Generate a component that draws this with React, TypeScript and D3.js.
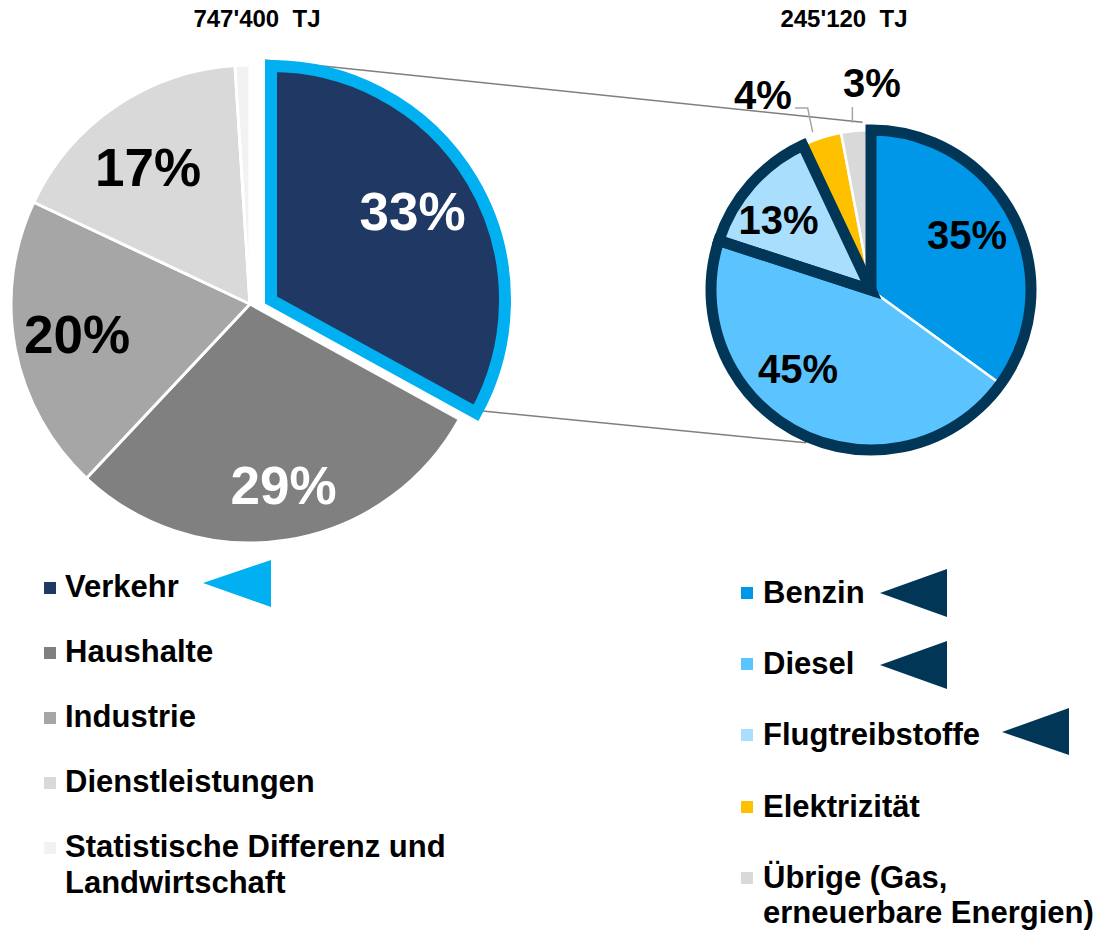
import * as d3 from 'd3';

// Endenergieverbrauch nach Verbrauchergruppen (links) und Verkehr nach Energieträger (rechts)
const sectorNames = ['Verkehr', 'Haushalte', 'Industrie', 'Dienstleistungen', 'Statistische Differenz und Landwirtschaft'];
const sectorShares = [33, 29, 20, 17, 1];
const sectorColors = ['#1f3864', '#808080', '#a6a6a6', '#d9d9d9', '#f2f2f2'];
const sectorLabelColors = ['#fff', '#fff', '#000', '#000', null];

const fuelNames = ['Benzin', 'Diesel', 'Flugtreibstoffe', 'Elektrizität', 'Übrige (Gas, erneuerbare Energien)'];
const fuelShares = [35, 45, 13, 4, 3];
const fuelColors = ['#0097e8', '#5bc3fd', '#a9defd', '#ffc000', '#d9d9d9'];

const totals = ["747'400  TJ", "245'120  TJ"];

const WIDTH = 1104;
const HEIGHT = 933;
const FONT = '"Liberation Sans", Arial, sans-serif';

// left pie layout
const L = { cx: 250, cy: 304, r: 239 };
const VERKEHR = { dx: 21, dy: -4, r: 234 };
const L_LABEL_R = 176;
const L_NUDGE = [[-10, 0], [6, 7], [0, -3], [-3, 8], [0, 0]];

// right pie layout
const R = { cx: 871, cy: 290, r: 160 };
const R_LABEL_R = 110;
const R_NUDGE = [[-2, -5], [-23, -19], [-10, 2], [0, 0], [0, 0]];
const R_OUTSIDE: Record<number, [number, number]> = { 3: [763, 95], 4: [872, 83] };

const NAVY = '#023657';
const CYAN = '#00b0f0';

const pie = d3.pie<number>().sort(null).value((d) => d);

const polar = (cx: number, cy: number, r: number, a: number): [number, number] => [
  cx + r * Math.sin(a),
  cy - r * Math.cos(a),
];

export default function App() {
  const leftArcs = pie(sectorShares);
  const rightArcs = pie(fuelShares);

  const lArc = d3.arc<d3.PieArcDatum<number>>().innerRadius(0).outerRadius(L.r);
  const vArc = d3.arc<d3.PieArcDatum<number>>().innerRadius(0).outerRadius(VERKEHR.r);
  const lLabel = d3.arc<d3.PieArcDatum<number>>().innerRadius(L_LABEL_R).outerRadius(L_LABEL_R);
  const rArc = d3.arc<d3.PieArcDatum<number>>().innerRadius(0).outerRadius(R.r);
  const rLabel = d3.arc<d3.PieArcDatum<number>>().innerRadius(R_LABEL_R).outerRadius(R_LABEL_R);

  // outline around Benzin + Diesel together
  const bdOutline = d3.arc()({
    innerRadius: 0,
    outerRadius: R.r,
    startAngle: rightArcs[0].startAngle,
    endAngle: rightArcs[1].endAngle,
  });

  // zoom lines from Verkehr slice to the right pie
  const vx = L.cx + VERKEHR.dx;
  const vy = L.cy + VERKEHR.dy;
  const vEnd = polar(vx, vy, VERKEHR.r, leftArcs[0].endAngle);
  const topStart: [number, number] = [vx - 6, vy - VERKEHR.r - 6];
  const topEnd = polar(R.cx, R.cy, R.r + 8, -0.05);
  const botStart: [number, number] = [vEnd[0] + 4, vEnd[1] - 2];
  const botEnd = polar(R.cx, R.cy, R.r + 6, (203 / 180) * Math.PI);

  const leftLegendY = [597, 662, 727, 792, 857];
  const rightLegendY = [603, 674, 745, 817, 888];

  return (
    <svg
      width={WIDTH}
      height={HEIGHT}
      style={{ position: 'absolute', left: 0, top: 0, background: '#fff' }}
      fontFamily={FONT}
      fontWeight="bold"
    >
      {/* titles */}
      <text x={257} y={27} fontSize={24} textAnchor="middle" style={{ whiteSpace: 'pre' }}>
        {totals[0]}
      </text>
      <text x={844} y={27} fontSize={24} textAnchor="middle" style={{ whiteSpace: 'pre' }}>
        {totals[1]}
      </text>

      {/* connector lines */}
      <line x1={topStart[0]} y1={topStart[1]} x2={topEnd[0]} y2={topEnd[1]} stroke="#7f7f7f" strokeWidth={1.5} />
      <line x1={botStart[0]} y1={botStart[1]} x2={botEnd[0]} y2={botEnd[1]} stroke="#7f7f7f" strokeWidth={1.5} />

      {/* left pie */}
      <g transform={`translate(${L.cx},${L.cy})`}>
        {leftArcs.map((a, i) =>
          i === 0 ? null : (
            <path key={i} d={lArc(a) ?? ''} fill={sectorColors[i]} stroke="#fff" strokeWidth={3} strokeLinejoin="round" />
          )
        )}
        {leftArcs.map((a, i) => {
          if (i === 0 || !sectorLabelColors[i]) return null;
          const [x, y] = lLabel.centroid(a);
          return (
            <text
              key={i}
              x={x + L_NUDGE[i][0]}
              y={y + L_NUDGE[i][1]}
              dy="0.36em"
              textAnchor="middle"
              fontSize={53}
              fill={sectorLabelColors[i] as string}
            >
              {`${sectorShares[i]}%`}
            </text>
          );
        })}
      </g>
      <g transform={`translate(${vx},${vy})`}>
        <path d={vArc(leftArcs[0]) ?? ''} fill={sectorColors[0]} stroke={CYAN} strokeWidth={12} strokeLinejoin="miter" />
        {(() => {
          const [x, y] = lLabel.centroid(leftArcs[0]);
          return (
            <text x={x + L_NUDGE[0][0]} y={y + L_NUDGE[0][1]} dy="0.36em" textAnchor="middle" fontSize={53} fill="#fff">
              {`${sectorShares[0]}%`}
            </text>
          );
        })()}
      </g>

      {/* right pie */}
      <g transform={`translate(${R.cx},${R.cy})`}>
        {rightArcs.map((a, i) => (
          <path key={i} d={rArc(a) ?? ''} fill={fuelColors[i]} stroke="#fff" strokeWidth={2.5} strokeLinejoin="round" />
        ))}
        <path d={bdOutline ?? ''} fill="none" stroke={NAVY} strokeWidth={11} strokeLinejoin="miter" />
        <path d={rArc(rightArcs[2]) ?? ''} fill="none" stroke={NAVY} strokeWidth={11} strokeLinejoin="miter" />
        {rightArcs.map((a, i) => {
          if (R_OUTSIDE[i]) return null;
          const [x, y] = rLabel.centroid(a);
          return (
            <text key={i} x={x + R_NUDGE[i][0]} y={y + R_NUDGE[i][1]} dy="0.36em" textAnchor="middle" fontSize={40} fill="#000">
              {`${fuelShares[i]}%`}
            </text>
          );
        })}
      </g>
      {rightArcs.map((a, i) => {
        const pos = R_OUTSIDE[i];
        if (!pos) return null;
        const mid = (a.startAngle + a.endAngle) / 2;
        const tip = polar(R.cx, R.cy, R.r + 6, mid);
        const pts: [number, number][] =
          i === 3
            ? [[pos[0] + 32, pos[1] + 13], [tip[0] - 12, pos[1] + 13], [tip[0] - 7, tip[1]]]
            : [[tip[0] - 3, pos[1] + 24], [tip[0] - 3, tip[1] - 2]];
        return (
          <g key={i}>
            <path d={d3.line()(pts) ?? ''} fill="none" stroke="#a6a6a6" strokeWidth={1.5} />
            <text x={pos[0]} y={pos[1]} dy="0.36em" textAnchor="middle" fontSize={40} fill="#000">
              {`${fuelShares[i]}%`}
            </text>
          </g>
        );
      })}

      {/* left legend */}
      {sectorNames.map((name, i) => {
        const y = leftLegendY[i];
        const lines = i === 4 ? ['Statistische Differenz und', 'Landwirtschaft'] : [name];
        return (
          <g key={name}>
            <rect x={44} y={y - 15} width={12} height={12} fill={sectorColors[i]} />
            {lines.map((t, j) => (
              <text key={j} x={65} y={y + j * 36} fontSize={31} fill="#000">
                {t}
              </text>
            ))}
          </g>
        );
      })}
      <polygon points="203,583 271,560 271,607" fill={CYAN} />

      {/* right legend */}
      {fuelNames.map((name, i) => {
        const y = rightLegendY[i];
        const lines = i === 4 ? ['Übrige (Gas,', 'erneuerbare Energien)'] : [name];
        return (
          <g key={name}>
            <rect x={741} y={y - 16} width={12} height={12} fill={fuelColors[i]} />
            {lines.map((t, j) => (
              <text key={j} x={763} y={y + j * 35} fontSize={31} fill="#000">
                {t}
              </text>
            ))}
          </g>
        );
      })}
      <polygon points="880,593 947,569 947,617" fill={NAVY} />
      <polygon points="880,665 947,641 947,689" fill={NAVY} />
      <polygon points="1002,732 1069,708 1069,755" fill={NAVY} />
    </svg>
  );
}
